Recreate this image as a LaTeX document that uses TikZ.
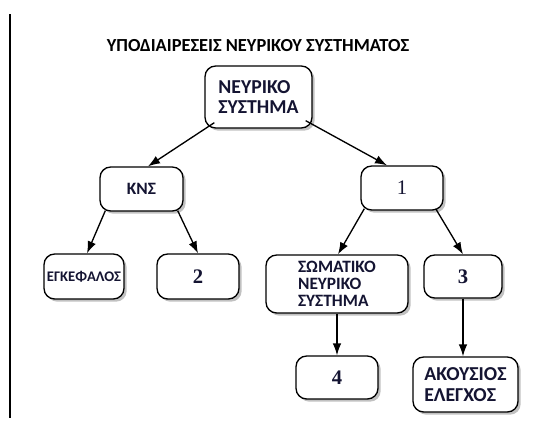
\documentclass[tikz,border=0pt]{standalone}
\usepackage{fontspec}
\newfontfamily\greekfont{Carlito}
\newfontfamily\digitfont{Liberation Serif}
\definecolor{inkblue}{RGB}{20, 20, 50}
\usepackage{tikz}
\usetikzlibrary{arrows.meta, calc, shadows}

\begin{document}
\begin{tikzpicture}[x=0.75pt, y=-0.75pt,
  box/.style={draw, line width=1pt, rounded corners=8pt, fill=white, inner sep=0pt,
    drop shadow={shadow xshift=2pt, shadow yshift=-2pt, fill=black!30, opacity=0.8},
    text=inkblue},
  wordbox/.style={box, align=left, font=\greekfont\bfseries\fontsize{14.8}{15.5}\selectfont},
  numbox/.style={box, font=\digitfont\bfseries\fontsize{15.5}{18}\selectfont},
  link/.style={line width=1pt, -{Latex[length=9pt, width=6.5pt]}}]
  \useasboundingbox (0, 0) rectangle (542, 425);

  % Margin rule
  \draw[line width=1.1pt] (10, 14) -- (10, 418);

  % Title
  \node[font=\greekfont\bfseries\fontsize{13.8}{15}\selectfont] (title) at (258, 46)
    {ΥΠΟΔΙΑΙΡΕΣΕΙΣ ΝΕΥΡΙΚΟΥ ΣΥΣΤΗΜΑΤΟΣ};

  % Boxes
  \node[wordbox, minimum width=80.25pt, minimum height=46.5pt] (root) at (258.5, 97)
    {ΝΕΥΡΙΚΟ\\ΣΥΣΤΗΜΑ};
  \node[wordbox, minimum width=62.25pt, minimum height=33pt, font=\greekfont\bfseries\fontsize{13}{15}\selectfont]
    (kns) at (141.5, 189) {ΚΝΣ};
  \node[numbox, minimum width=61.5pt, minimum height=33pt, font=\digitfont\fontsize{15.5}{18}\selectfont]
    (one) at (402, 188) {1};
  \node[wordbox, minimum width=60pt, minimum height=33.75pt, font=\greekfont\bfseries\fontsize{11}{12}\selectfont]
    (brain) at (84, 276.5) {ΕΓΚΕΦΑΛΟΣ};
  \node[numbox, minimum width=61.5pt, minimum height=33.75pt] (two) at (198, 276.5) {2};
  \node[wordbox, minimum width=106.5pt, minimum height=43.5pt, font=\greekfont\bfseries\fontsize{13}{12.8}\selectfont]
    (somatic) at (337, 284) {ΣΩΜΑΤΙΚΟ\\ΝΕΥΡΙΚΟ\\ΣΥΣΤΗΜΑ};
  \node[numbox, minimum width=58.5pt, minimum height=32.25pt] (three) at (463, 276.5) {3};
  \node[numbox, minimum width=61.5pt, minimum height=32.25pt] (four) at (337, 377.5) {4};
  \node[wordbox, minimum width=78.75pt, minimum height=41.25pt] (invol) at (465.5, 384.5)
    {ΑΚΟΥΣΙΟΣ\\ΕΛΕΓΧΟΣ};

  % Connectors
  \draw[link] ($(root.south west)+(10,-6)$) -- ($(kns.north)+(6.5,0)$);
  \draw[link] ($(root.south east)+(-7,-8)$) -- ($(one.north)+(-15,0)$);
  \draw[link] ($(kns.south west)+(6,-1)$) -- ($(brain.north)+(3,0)$);
  \draw[link] ($(kns.south east)+(-6,-1)$) -- (two.north);
  \draw[link] ($(one.south west)+(4,-2)$) -- ($(somatic.north)+(1,0)$);
  \draw[link] ($(one.south east)+(-8,-2)$) -- (three.north);
  \draw[link] (somatic.south -| four.north) -- (four.north);
  \draw[link] (three.south) -- (three.south |- invol.north);
\end{tikzpicture}
\end{document}
